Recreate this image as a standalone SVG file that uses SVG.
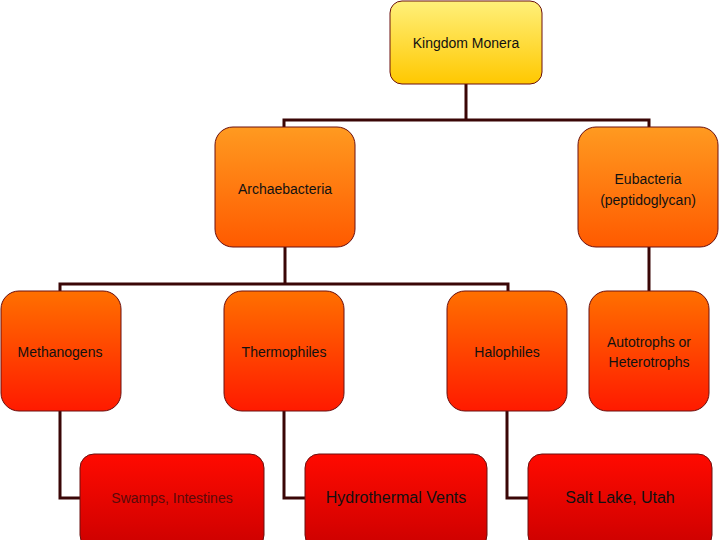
<svg xmlns="http://www.w3.org/2000/svg" width="720" height="540" viewBox="0 0 720 540">
<defs>
<linearGradient id="gy" x1="0" y1="0" x2="0" y2="1"><stop offset="0" stop-color="#fff07a"/><stop offset="1" stop-color="#ffc800"/></linearGradient>
<linearGradient id="go" x1="0" y1="0" x2="0" y2="1"><stop offset="0" stop-color="#ff9a20"/><stop offset="1" stop-color="#ff5a00"/></linearGradient>
<linearGradient id="gr" x1="0" y1="0" x2="0" y2="1"><stop offset="0" stop-color="#ff7000"/><stop offset="1" stop-color="#ff1a00"/></linearGradient>
<linearGradient id="gd" x1="0" y1="0" x2="0" y2="1"><stop offset="0" stop-color="#ff0a00"/><stop offset="1" stop-color="#cc0000"/></linearGradient>
</defs>
<style>
rect{stroke:#6a1010;stroke-width:1}
text{font-family:"Liberation Sans",Arial,sans-serif;font-size:14px;text-anchor:middle;fill:#111}
.c{fill:none;stroke:#3a0606;stroke-width:3}
</style>
<g id="connectors">
<path class="c" d="M466 84V120M284 127V120H649V127"/>
<path class="c" d="M285 247V284M60 291V284H508V291M649 247V291"/>
<path class="c" d="M60 411V498H80M284 411V498H305M507 411V498H528"/>
</g>
<g id="kingdom"><rect x="390" y="1" width="152" height="83" rx="12" fill="url(#gy)"/><text x="466" y="48">Kingdom Monera</text></g>
<g id="archae"><rect x="215" y="127" width="140" height="120" rx="18" fill="url(#go)"/><text x="285" y="194">Archaebacteria</text></g>
<g id="eubac"><rect x="578" y="127" width="140" height="120" rx="18" fill="url(#go)"/><text x="648" y="184">Eubacteria</text><text x="648" y="205">(peptidoglycan)</text></g>
<g id="meth"><rect x="1" y="291" width="120" height="120" rx="18" fill="url(#gr)"/><text x="60" y="357">Methanogens</text></g>
<g id="thermo"><rect x="224" y="291" width="120" height="120" rx="18" fill="url(#gr)"/><text x="284" y="357">Thermophiles</text></g>
<g id="halo"><rect x="447" y="291" width="120" height="120" rx="18" fill="url(#gr)"/><text x="507" y="357">Halophiles</text></g>
<g id="auto"><rect x="589" y="291" width="120" height="120" rx="18" fill="url(#gr)"/><text x="649" y="347">Autotrophs or</text><text x="649" y="367">Heterotrophs</text></g>
<g id="swamps"><rect x="80" y="454" width="184" height="95" rx="14" fill="url(#gd)"/><text x="172" y="503" style="fill:#5a0a0a">Swamps, Intestines</text></g>
<g id="hydro"><rect x="305" y="454" width="182" height="95" rx="14" fill="url(#gd)"/><text x="396" y="503" style="font-size:16px">Hydrothermal Vents</text></g>
<g id="salt"><rect x="528" y="454" width="184" height="95" rx="14" fill="url(#gd)"/><text x="620" y="503" style="font-size:16px">Salt Lake, Utah</text></g>
</svg>
